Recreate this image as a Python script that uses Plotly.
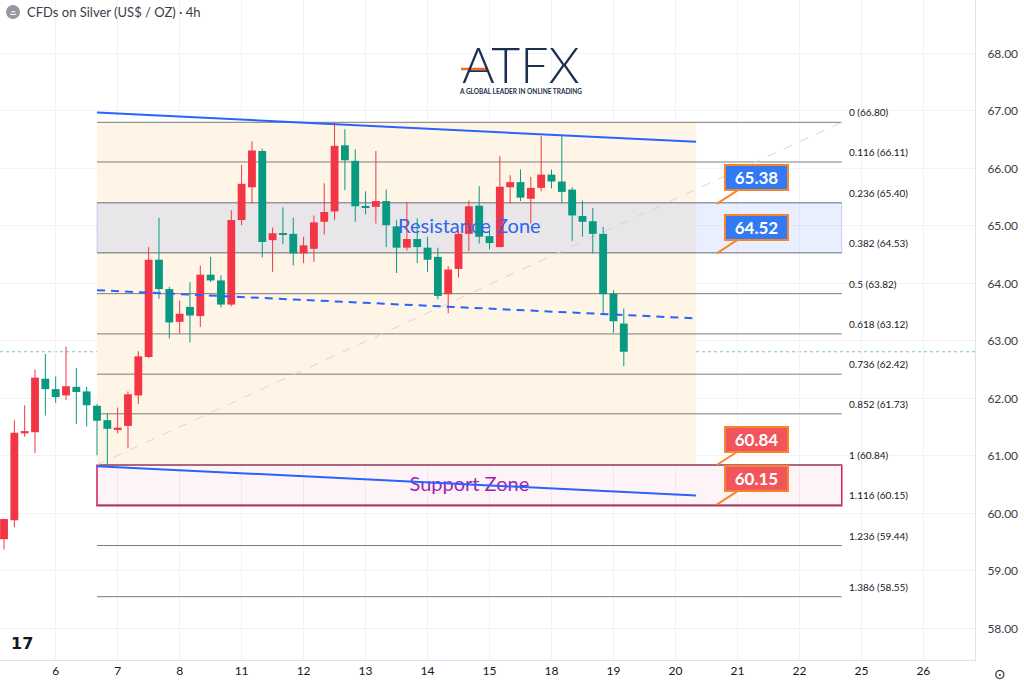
import plotly.graph_objects as go

# ---------------- data ----------------
bar_index = list(range(61))
open_ = [59.55, 59.88, 61.39, 61.41, 62.34, 62.16, 62.05, 62.20, 62.12, 61.87,
         61.62, 61.45, 61.52, 62.05, 62.72, 64.41, 63.90, 63.33, 63.59, 63.43,
         64.15, 64.05, 63.63, 65.10, 65.67, 66.30, 64.75, 64.87, 64.86, 64.52,
         64.60, 65.07, 65.25, 66.40, 66.13, 65.34, 65.33, 65.43, 64.99, 64.62,
         64.77, 64.62, 64.46, 63.81, 64.25, 64.86, 65.35, 64.82, 64.63, 65.67,
         65.76, 65.47, 65.66, 65.89, 65.77, 65.63, 65.17, 65.08, 64.86, 63.82,
         63.30]
high = [59.91, 61.62, 61.88, 62.50, 62.77, 62.38, 62.90, 62.53, 62.20, 61.90,
        61.74, 61.84, 62.12, 62.82, 64.63, 65.14, 63.94, 63.70, 64.02, 64.31,
        64.46, 64.14, 65.27, 66.06, 66.47, 66.34, 64.97, 65.32, 65.14, 64.81,
        65.18, 65.74, 66.80, 66.68, 66.33, 65.60, 66.30, 65.63, 65.10, 65.41,
        65.13, 64.81, 64.62, 64.30, 64.92, 65.44, 65.69, 64.95, 66.21, 65.88,
        65.98, 65.85, 66.56, 65.98, 66.57, 65.67, 65.44, 65.31, 64.98, 63.88,
        63.56]
low = [59.37, 59.76, 61.33, 61.05, 61.70, 61.92, 61.97, 61.55, 61.51, 61.01,
       60.84, 61.39, 61.13, 61.90, 62.70, 63.73, 63.04, 63.13, 62.97, 63.24,
       64.02, 63.58, 63.60, 65.01, 65.39, 64.45, 64.20, 64.68, 64.31, 64.35,
       64.37, 64.85, 65.10, 65.62, 65.07, 65.20, 65.04, 64.63, 64.18, 64.57,
       64.35, 64.20, 63.72, 63.48, 64.10, 64.56, 64.69, 64.59, 64.63, 65.39,
       65.43, 65.04, 65.60, 65.65, 65.40, 64.74, 64.81, 64.52, 63.46, 63.14,
       62.56]
close = [59.90, 61.40, 61.43, 62.36, 62.16, 62.02, 62.21, 62.11, 61.88, 61.61,
         61.47, 61.49, 62.07, 62.73, 64.41, 63.90, 63.32, 63.47, 63.44, 64.15,
         64.05, 63.63, 65.10, 65.73, 66.31, 64.72, 64.87, 64.85, 64.52, 64.66,
         65.06, 65.24, 66.39, 66.14, 65.34, 65.32, 65.43, 65.01, 64.62, 64.77,
         64.63, 64.41, 63.78, 64.24, 64.86, 65.34, 64.81, 64.70, 65.68, 65.76,
         65.49, 65.66, 65.89, 65.77, 65.59, 65.18, 65.07, 64.86, 63.81, 63.34,
         62.81]

day_tick_index = [5, 11, 17, 23, 29, 35, 41, 47, 53, 59, 65, 71, 77, 83, 89]
day_tick_labels = ["6", "7", "8", "11", "12", "13", "14", "15", "18", "19",
                   "20", "21", "22", "25", "26"]
price_ticks = [58, 59, 60, 61, 62, 63, 64, 65, 66, 67, 68]

# Fibonacci retracement
fib_x = [9, 81.1]
fib_ratio = ["0", "0.116", "0.236", "0.382", "0.5", "0.618", "0.736", "0.852",
             "1", "1.116", "1.236", "1.386"]
fib_price = [66.80, 66.11, 65.40, 64.53, 63.82, 63.12, 62.42, 61.73,
             60.84, 60.15, 59.44, 58.55]
fib_box_x = [9, 67]
fib_box_y = [60.84, 66.80]

# Channel trend lines
trend_x = [9, 67]
upper_y = [66.97, 66.46]
middle_y = [63.88, 63.39]
lower_y = [60.82, 60.31]

# Zones
resist_zone = [64.53, 65.40]
support_zone = [60.13, 60.84]
zone_x = [9, 81.1]

# Price callouts
callout_x = 69.0
callout_blue = [65.38, 64.52]
callout_red = [60.84, 60.15]

FONT = "Lato"
UP = "#f23645"
DOWN = "#089981"

fig = go.Figure()

# zone texts (under candles)
fig.add_trace(go.Scatter(
    x=[(zone_x[0] + zone_x[1]) / 2], y=[sum(resist_zone) / 2], mode="text",
    text=["Resistance Zone"], textfont=dict(family=FONT, size=20, color="#2f65f0"),
    hoverinfo="skip", showlegend=False))
fig.add_trace(go.Scatter(
    x=[(zone_x[0] + zone_x[1]) / 2], y=[sum(support_zone) / 2 - 0.005], mode="text",
    text=["Support Zone"], textfont=dict(family=FONT, size=20, color="#9c27b0"),
    hoverinfo="skip", showlegend=False))

# wicks
for is_up, col in [(True, UP), (False, DOWN)]:
    wx, wy = [], []
    for i, o, h, l, c in zip(bar_index, open_, high, low, close):
        if (c > o) == is_up:
            wx += [i, i, None]
            wy += [l, h, None]
    fig.add_trace(go.Scatter(x=wx, y=wy, mode="lines", line=dict(color=col, width=1),
                             hoverinfo="skip", showlegend=False))

# bodies
base = [min(o, c) for o, c in zip(open_, close)]
height = [max(abs(c - o), 0.02) for o, c in zip(open_, close)]
colors = [UP if c > o else DOWN for o, c in zip(open_, close)]
fig.add_trace(go.Bar(x=bar_index, y=height, base=base, width=0.76,
                     marker=dict(color=colors, line=dict(width=0)),
                     hoverinfo="skip", showlegend=False))

# channel lines (above candles)
fig.add_trace(go.Scatter(x=trend_x, y=upper_y, mode="lines",
                         line=dict(color="#2962ff", width=2), hoverinfo="skip", showlegend=False))
fig.add_trace(go.Scatter(x=trend_x, y=lower_y, mode="lines",
                         line=dict(color="#2962ff", width=2), hoverinfo="skip", showlegend=False))
fig.add_trace(go.Scatter(x=trend_x, y=middle_y, mode="lines",
                         line=dict(color="#2962ff", width=2, dash="8px,6px"),
                         hoverinfo="skip", showlegend=False))

shapes = []
# fib background
shapes.append(dict(type="rect", xref="x", yref="y", x0=fib_box_x[0], x1=fib_box_x[1],
                   y0=fib_box_y[0], y1=fib_box_y[1], fillcolor="#fff5e7",
                   line=dict(width=0), layer="between"))
# resistance zone
shapes.append(dict(type="rect", xref="x", yref="y", x0=zone_x[0], x1=zone_x[1],
                   y0=resist_zone[0], y1=resist_zone[1],
                   fillcolor="rgba(41,98,255,0.10)",
                   line=dict(color="rgba(41,98,255,0.25)", width=1), layer="between"))
# support zone
shapes.append(dict(type="rect", xref="x", yref="y", x0=zone_x[0], x1=zone_x[1],
                   y0=support_zone[0], y1=support_zone[1],
                   fillcolor="rgba(233,30,99,0.05)",
                   line=dict(color="#d81b60", width=1.5), layer="between"))
# fib levels
for p in fib_price:
    shapes.append(dict(type="line", xref="x", yref="y", x0=fib_x[0], x1=fib_x[1],
                       y0=p, y1=p, line=dict(color="#7d7b78", width=1), layer="between"))
# fib diagonal
shapes.append(dict(type="line", xref="x", yref="y", x0=fib_x[0], x1=fib_x[1],
                   y0=fib_price[8], y1=fib_price[0],
                   line=dict(color="#d6d6d6", width=1, dash="dash"), layer="between"))
# last price line
shapes.append(dict(type="line", xref="paper", yref="y", x0=0, x1=1,
                   y0=close[-1], y1=close[-1],
                   line=dict(color="rgba(8,153,129,0.55)", width=1, dash="dot"),
                   layer="between"))
# header icon
shapes.append(dict(type="circle", xref="paper", yref="paper",
                   x0=6 / 975, x1=20 / 975, y0=(660 - 19) / 660, y1=(660 - 5) / 660,
                   fillcolor="#9598a1", line=dict(width=0)))
# ATFX orange bar
shapes.append(dict(type="line", xref="paper", yref="paper",
                   x0=461 / 975, x1=488 / 975, y0=(660 - 69) / 660, y1=(660 - 69) / 660,
                   line=dict(color="#f26b21", width=2.5)))

annotations = []
for r, p in zip(fib_ratio, fib_price):
    annotations.append(dict(x=fib_x[1] + 0.5, y=p, xref="x", yref="y", text=f"{r} ({p:.2f})",
                            showarrow=False, xanchor="left", yanchor="middle", yshift=10,
                            font=dict(family=FONT, size=10, color="#131722")))

for vals, bg in [(callout_blue, "#3179f5"), (callout_red, "#f2545b")]:
    for v in vals:
        annotations.append(dict(x=callout_x, y=v, xref="x", yref="y", text=f"<b>{v:.2f}</b>",
                                showarrow=True, arrowhead=0, arrowwidth=2, arrowcolor="#f7862a",
                                ax=40, ay=-26, bgcolor=bg, bordercolor="#f7862a", borderwidth=2,
                                borderpad=2, width=57, height=19,
                                font=dict(family=FONT, size=17, color="white")))

# header
annotations.append(dict(x=25 / 975, y=(660 - 12) / 660, xref="paper", yref="paper",
                        text="CFDs on Silver (US$ / OZ) · 4h", showarrow=False,
                        xanchor="left", yanchor="middle",
                        font=dict(family=FONT, size=13, color="#3a3d47")))
annotations.append(dict(x=13 / 975, y=(660 - 13) / 660, xref="paper", yref="paper",
                        text="⌓", showarrow=False, xanchor="center", yanchor="middle",
                        font=dict(family="DejaVu Sans", size=8, color="white")))
# ATFX logo
annotations.append(dict(x=521 / 975, y=(660 - 64) / 660, xref="paper", yref="paper",
                        text="ATFX", showarrow=False, xanchor="center", yanchor="middle",
                        height=44, valign="middle",
                        font=dict(family=FONT, size=50, color="#1b2f50", weight=300)))
annotations.append(dict(x=520 / 975, y=(660 - 91) / 660, xref="paper", yref="paper",
                        text="<b>A GLOBAL LEADER IN ONLINE TRADING</b>", showarrow=False,
                        xanchor="center", yanchor="middle",
                        font=dict(family=FONT, size=6.5, color="#1b2f50")))
# TradingView logo
annotations.append(dict(x=22 / 975, y=(660 - 643) / 660, xref="paper", yref="paper",
                        text="<b>17</b>", showarrow=False, xanchor="center", yanchor="middle",
                        font=dict(family="DejaVu Sans", size=16, color="#131722")))
# gear icon
annotations.append(dict(x=1000 / 975, y=(660 - 674) / 660, xref="paper", yref="paper",
                        text="⊙", showarrow=False, xanchor="center", yanchor="middle",
                        font=dict(family="DejaVu Sans", size=14, color="#131722")))

fig.update_layout(
    width=1024, height=689,
    margin=dict(l=0, r=49, t=0, b=29),
    paper_bgcolor="white", plot_bgcolor="white",
    barmode="overlay", showlegend=False,
    shapes=shapes, annotations=annotations,
    xaxis=dict(range=[-0.39, 94.0], tickmode="array", tickvals=day_tick_index,
               ticktext=day_tick_labels, showgrid=True, gridcolor="#f2f3f6",
               zeroline=False, showline=True, linecolor="#e0e3eb", ticks="",
               tickfont=dict(family=FONT, size=12, color="#131722"), fixedrange=True),
    yaxis=dict(range=[57.449, 68.927], side="right", tickmode="array", tickvals=price_ticks,
               ticktext=[f"{v:.2f}" for v in price_ticks], showgrid=True,
               gridcolor="#f2f3f6", zeroline=False, showline=True, linecolor="#e0e3eb",
               ticks="", ticklabelstandoff=9,
               tickfont=dict(family=FONT, size=12, color="#3a3d47"), fixedrange=True),
)

fig.write_html(
    "out.html",
    config={"displayModeBar": False},
    post_script="document.body.style.margin='0';document.body.style.overflow='hidden';",
)
